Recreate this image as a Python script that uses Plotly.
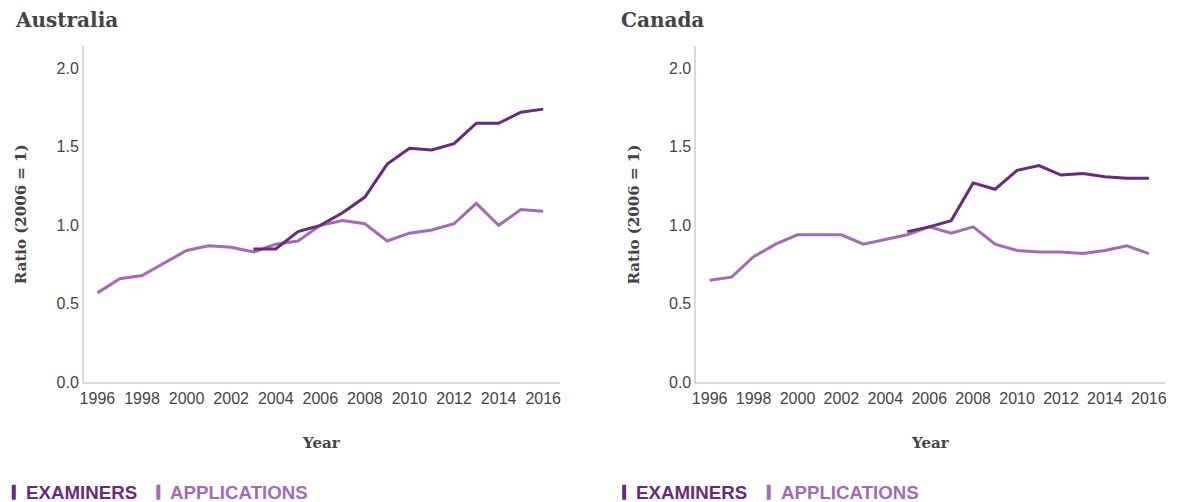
import plotly.graph_objects as go
from plotly.subplots import make_subplots

# the page is shown with an 8px body margin and photographed slightly squeezed,
# so target screen pixels are mapped back to figure pixels
OFF = 8
SX, SY = 0.991, 0.979
DX = 4.3
W, H = 1179, 505

years = list(range(1996, 2017))

# Australia
aus_applications = [0.57, 0.66, 0.68, 0.76, 0.84, 0.87, 0.86, 0.83, 0.88, 0.90, 1.00,
                    1.03, 1.01, 0.90, 0.95, 0.97, 1.01, 1.14, 1.00, 1.10, 1.09]
aus_exam_years = list(range(2003, 2017))
aus_examiners = [0.85, 0.85, 0.96, 1.00, 1.08, 1.18, 1.39, 1.49, 1.48, 1.52, 1.65,
                 1.65, 1.72, 1.74]

# Canada
can_applications = [0.65, 0.67, 0.80, 0.88, 0.94, 0.94, 0.94, 0.88, 0.91, 0.94, 0.99,
                    0.95, 0.99, 0.88, 0.84, 0.83, 0.83, 0.82, 0.84, 0.87, 0.82]
can_exam_years = list(range(2005, 2017))
can_examiners = [0.96, 0.99, 1.03, 1.27, 1.23, 1.35, 1.38, 1.32, 1.33, 1.31, 1.30, 1.30]

tick_years = list(range(1996, 2017, 2))
y_ticks = [0.0, 0.5, 1.0, 1.5, 2.0]

DARK = "#682a7d"
LIGHT = "#a56ab6"
TEXT = "#444444"
AXIS = "#d9d9d9"
SERIF = "DejaVu Serif"
SANS = "Liberation Sans"


def px(x):
    # screen pixel -> paper x
    return ((x - DX) / SX - OFF) / W


def py(y):
    # screen pixel -> paper y
    return 1 - (y / SY - OFF) / H


fig = make_subplots(rows=1, cols=2)

panels = [
    (aus_applications, aus_exam_years, aus_examiners, 1),
    (can_applications, can_exam_years, can_examiners, 2),
]
for apps, ex_years, exams, col in panels:
    fig.add_trace(go.Scatter(x=years, y=apps, mode="lines", name="Applications",
                             line=dict(color=LIGHT, width=3), showlegend=False),
                  row=1, col=col)
    fig.add_trace(go.Scatter(x=ex_years, y=exams, mode="lines", name="Examiners",
                             line=dict(color=DARK, width=3), showlegend=False),
                  row=1, col=col)

# plot areas in screen pixels
areas = {1: (83, 557), 2: (693, 1160)}
top, bottom = 46, 381

for col, (x0, x1) in areas.items():
    xa = "xaxis" if col == 1 else "xaxis2"
    ya = "yaxis" if col == 1 else "yaxis2"
    fig.layout[xa].update(
        domain=[px(x0), px(x1)], range=[1995.4, 2016.75],
        tickvals=tick_years, ticks="", showgrid=False, zeroline=False,
        showline=True, linecolor=AXIS, linewidth=2,
        tickfont=dict(family=SANS, size=16, color=TEXT),
    )
    fig.layout[ya].update(
        domain=[py(bottom), py(top)], range=[0, 2.14],
        tickvals=y_ticks, tickformat=".1f", ticks="", showgrid=False, zeroline=False,
        showline=True, linecolor=AXIS, linewidth=2,
        tickfont=dict(family=SANS, size=16, color=TEXT),
    )

annotations = []
shapes = []
titles = [("Australia", 12, 20), ("Canada", 616, 20)]
for text, x, y in titles:
    annotations.append(dict(text=text, x=px(x), y=py(y), xref="paper", yref="paper",
                            xanchor="left", yanchor="middle", showarrow=False,
                            font=dict(family=SERIF, size=20, color=TEXT, weight="bold")))

for col, (x0, x1) in areas.items():
    # y-axis title
    annotations.append(dict(text="Ratio (2006 = 1)", x=px(x0 - 62), y=py((top + bottom) / 2),
                            xref="paper", yref="paper", textangle=-90,
                            xanchor="center", yanchor="middle", showarrow=False,
                            font=dict(family=SERIF, size=15, color=TEXT, weight="bold")))
    # x-axis title
    annotations.append(dict(text="Year", x=px((x0 + x1) / 2), y=py(441),
                            xref="paper", yref="paper", xanchor="center", yanchor="middle",
                            showarrow=False,
                            font=dict(family=SERIF, size=15, color=TEXT, weight="bold")))

# legends
legend_rows = [(11, 155), (619, 763)]
for ex_x, ap_x in legend_rows:
    for bx, label, color in [(ex_x, "EXAMINERS", DARK), (ap_x, "APPLICATIONS", LIGHT)]:
        shapes.append(dict(type="rect", xref="paper", yref="paper",
                           x0=px(bx), x1=px(bx + 4), y0=py(498), y1=py(483),
                           fillcolor=color, line=dict(width=0)))
        annotations.append(dict(text=label, x=px(bx + 12), y=py(491), xref="paper", yref="paper",
                                xanchor="left", yanchor="middle", showarrow=False,
                                font=dict(family=SANS, size=18.7, color=color, weight="bold")))

fig.update_layout(
    width=W, height=H,
    margin=dict(l=0, r=0, t=0, b=0),
    paper_bgcolor="white", plot_bgcolor="white",
    annotations=annotations, shapes=shapes,
    showlegend=False,
)

fig.write_html("out.html")
